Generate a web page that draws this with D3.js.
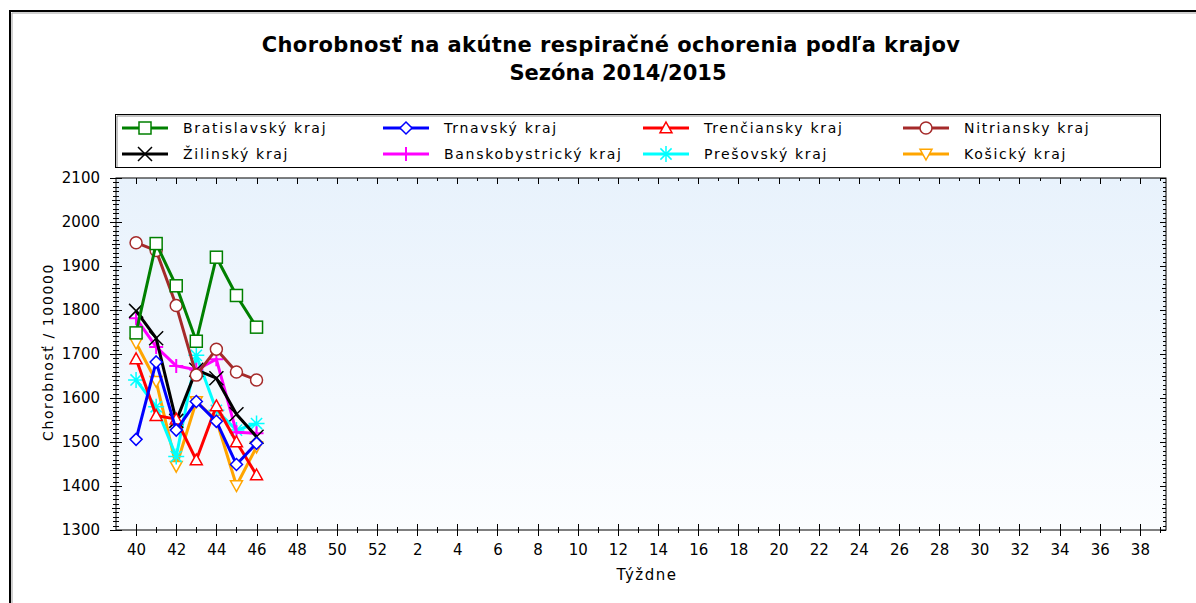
<!DOCTYPE html>
<meta charset="utf-8">
<title>Chorobnosť na ARO podľa krajov</title>
<style>
body { margin: 0; background: #fff; }
svg { display: block; font-family: "DejaVu Sans", Arial, sans-serif; }
.axis .tick text { font-size: 15px; fill: #000; font-family: "DejaVu Sans", Arial, sans-serif; }
</style>
<body>
<script src="https://d3js.org/d3.v7.min.js"></script>
<script>

// weeks of the season (x categories)
var weeks = [40, 41, 42, 43, 44, 45, 46, 47, 48, 49, 50, 51, 52,
             1, 2, 3, 4, 5, 6, 7, 8, 9, 10, 11, 12, 13, 14, 15, 16, 17, 18, 19, 20,
             21, 22, 23, 24, 25, 26, 27, 28, 29, 30, 31, 32, 33, 34, 35, 36, 37, 38, 39];

var yTicks = [1300, 1400, 1500, 1600, 1700, 1800, 1900, 2000, 2100];

// values for weeks 40..46
var bratislavsky     = [1748, 1951, 1855, 1729, 1920, 1833, 1761];
var trnavsky         = [1506, 1682, 1527, 1592, 1547, 1449, 1497];
var trenciansky      = [1689, 1560, 1552, 1459, 1582, 1500, 1425];
var nitriansky       = [1953, 1935, 1810, 1652, 1711, 1659, 1641];
var zilinsky         = [1798, 1736, 1548, 1664, 1645, 1563, 1512];
var banskobystricky  = [1781, 1716, 1673, 1664, 1688, 1522, 1520];
var presovsky        = [1641, 1580, 1467, 1697, 1572, 1527, 1542];
var kosicky          = [1725, 1638, 1445, 1592, 1550, 1401, 1489];

var series = [
  {name: "Bratislavský kraj", values: bratislavsky, color: "#008000", marker: "square"},
  {name: "Trnavský kraj", values: trnavsky, color: "#0000ff", marker: "diamond"},
  {name: "Trenčiansky kraj", values: trenciansky, color: "#ff0000", marker: "triangle"},
  {name: "Nitriansky kraj", values: nitriansky, color: "#a52a2a", marker: "circle"},
  {name: "Žilinský kraj", values: zilinsky, color: "#000000", marker: "x"},
  {name: "Banskobystrický kraj", values: banskobystricky, color: "#ff00ff", marker: "plus"},
  {name: "Prešovský kraj", values: presovsky, color: "#00ffff", marker: "star"},
  {name: "Košický kraj", values: kosicky, color: "#ffa500", marker: "triangleDown"}
];

var W = 1196, H = 603;
var plot = {left: 116, right: 1166, top: 178, bottom: 530};

var svg = d3.select("body").append("svg")
    .attr("width", W).attr("height", H);

// outer panel frame
svg.append("path").attr("d", "M10,603V11H1196").attr("fill", "none")
    .attr("stroke", "#000").attr("stroke-width", 2);
svg.append("path").attr("d", "M12,603V13H1196").attr("fill", "none")
    .attr("stroke", "#a0a0a0").attr("stroke-width", 1);

// title
svg.append("text").attr("x", 611).attr("y", 52).attr("text-anchor", "middle")
    .attr("font-size", 21).attr("font-weight", "bold").attr("letter-spacing", 0.4)
    .text("Chorobnosť na akútne respiračné ochorenia podľa krajov");
svg.append("text").attr("x", 618).attr("y", 80).attr("text-anchor", "middle")
    .attr("font-size", 21).attr("font-weight", "bold")
    .text("Sezóna 2014/2015");

// scales
var x = d3.scaleLinear().domain([-1, 51.3]).range([plot.left, plot.right]);
var y = d3.scaleLinear().domain([1300, 2100]).range([plot.bottom, plot.top]);

// plot background
var defs = svg.append("defs");
var grad = defs.append("linearGradient").attr("id", "bg")
    .attr("x1", 0).attr("y1", 0).attr("x2", 0).attr("y2", 1);
grad.append("stop").attr("offset", "0%").attr("stop-color", "#e8f2fc");
grad.append("stop").attr("offset", "100%").attr("stop-color", "#fbfdff");

svg.append("rect")
    .attr("x", plot.left).attr("y", plot.top)
    .attr("width", plot.right - plot.left).attr("height", plot.bottom - plot.top)
    .attr("fill", "url(#bg)").attr("stroke", "#000").attr("stroke-width", 1);

// ticks: y axis (left and right), crossing the frame
var yMinor = d3.range(1300, 2101, 10);
var tickG = svg.append("g").attr("stroke", "#000").attr("stroke-width", 1)
    .attr("shape-rendering", "crispEdges");
yMinor.forEach(function(v) {
  var major = v % 100 === 0, half = v % 50 === 0;
  var l = major ? 6 : (half ? 4 : 3);
  tickG.append("line").attr("x1", plot.left - l).attr("x2", plot.left + l)
      .attr("y1", Math.round(y(v)) + 0.5).attr("y2", Math.round(y(v)) + 0.5);
  tickG.append("line").attr("x1", plot.right - l).attr("x2", plot.right)
      .attr("y1", Math.round(y(v)) + 0.5).attr("y2", Math.round(y(v)) + 0.5);
});

// x ticks, each week, labels at even week numbers
weeks.forEach(function(w, i) {
  var major = w % 2 === 0;
  var l = major ? 6 : 3;
  var xx = Math.round(x(i)) + 0.5;
  tickG.append("line").attr("x1", xx).attr("x2", xx)
      .attr("y1", plot.bottom - l).attr("y2", plot.bottom + l);
  tickG.append("line").attr("x1", xx).attr("x2", xx)
      .attr("y1", plot.top).attr("y2", plot.top + l);
});

var yAxis = svg.append("g").attr("class", "axis")
    .attr("transform", "translate(" + plot.left + ",0)")
    .call(d3.axisLeft(y).tickValues(yTicks).tickSize(0).tickPadding(16)
      .tickFormat(d3.format("d")));
yAxis.select(".domain").remove();

var xLabelIdx = weeks.map(function(w, i) { return i; })
    .filter(function(i) { return weeks[i] % 2 === 0; });
var xAxis = svg.append("g").attr("class", "axis")
    .attr("transform", "translate(0," + plot.bottom + ")")
    .call(d3.axisBottom(x).tickValues(xLabelIdx).tickSize(0).tickPadding(14)
      .tickFormat(function(i) { return weeks[i]; }));
xAxis.select(".domain").remove();

// axis titles
svg.append("text").attr("x", 647).attr("y", 580).attr("text-anchor", "middle")
    .attr("font-size", 15).attr("letter-spacing", 1.5).text("Týždne");
svg.append("text").attr("transform", "translate(53,352) rotate(-90)")
    .attr("text-anchor", "middle").attr("font-size", 14).attr("letter-spacing", 1.6)
    .text("Chorobnosť / 100000");

// markers
function drawMarker(g, type, color, cx, cy, s) {
  var m;
  switch (type) {
    case "square":
      m = g.append("rect").attr("x", cx - s).attr("y", cy - s)
          .attr("width", 2 * s).attr("height", 2 * s);
      break;
    case "circle":
      m = g.append("circle").attr("cx", cx).attr("cy", cy).attr("r", s);
      break;
    case "diamond":
      m = g.append("path").attr("d", "M" + cx + "," + (cy - s) + "L" + (cx + s) + "," + cy +
          "L" + cx + "," + (cy + s) + "L" + (cx - s) + "," + cy + "Z");
      break;
    case "triangle":
      m = g.append("path").attr("d", "M" + cx + "," + (cy - s) + "L" + (cx + s) + "," + (cy + s * 0.8) +
          "L" + (cx - s) + "," + (cy + s * 0.8) + "Z");
      break;
    case "triangleDown":
      m = g.append("path").attr("d", "M" + cx + "," + (cy + s) + "L" + (cx + s) + "," + (cy - s * 0.8) +
          "L" + (cx - s) + "," + (cy - s * 0.8) + "Z");
      break;
    case "x":
      g.append("path").attr("d", "M" + (cx - s) + "," + (cy - s) + "L" + (cx + s) + "," + (cy + s) +
          "M" + (cx + s) + "," + (cy - s) + "L" + (cx - s) + "," + (cy + s))
          .attr("stroke", color).attr("stroke-width", 1.5).attr("fill", "none");
      return;
    case "plus":
      g.append("path").attr("d", "M" + (cx - s) + "," + cy + "L" + (cx + s) + "," + cy +
          "M" + cx + "," + (cy - s) + "L" + cx + "," + (cy + s))
          .attr("stroke", color).attr("stroke-width", 2).attr("fill", "none");
      return;
    case "star":
      var d = "M" + (cx - s) + "," + cy + "L" + (cx + s) + "," + cy +
          "M" + cx + "," + (cy - s) + "L" + cx + "," + (cy + s) +
          "M" + (cx - s * 0.7) + "," + (cy - s * 0.7) + "L" + (cx + s * 0.7) + "," + (cy + s * 0.7) +
          "M" + (cx + s * 0.7) + "," + (cy - s * 0.7) + "L" + (cx - s * 0.7) + "," + (cy + s * 0.7);
      g.append("path").attr("d", d).attr("stroke", color).attr("stroke-width", 1.5).attr("fill", "none");
      return;
  }
  m.attr("fill", "#fff").attr("stroke", color).attr("stroke-width", 1.5);
}

var markerSize = {square: 6, circle: 6, diamond: 6, triangle: 6, triangleDown: 6, x: 7, plus: 7, star: 8};

var line = d3.line()
    .x(function(d, i) { return x(i); })
    .y(function(d) { return y(d); });

// draw in reverse order so that Bratislavský ends on top
series.slice().reverse().forEach(function(s) {
  var g = svg.append("g");
  g.append("path").datum(s.values).attr("d", line)
      .attr("fill", "none").attr("stroke", s.color).attr("stroke-width", 3)
      .attr("stroke-linejoin", "round");
  s.values.forEach(function(v, i) {
    drawMarker(g, s.marker, s.color, x(i), y(v), markerSize[s.marker]);
  });
});

// legend
var lg = svg.append("g");
lg.append("rect").attr("x", 115.5).attr("y", 114.5).attr("width", 1045).attr("height", 53)
    .attr("fill", "#fff").attr("stroke", "#000").attr("stroke-width", 1);
lg.append("path").attr("d", "M117,167V116H1160").attr("fill", "none")
    .attr("stroke", "#888").attr("stroke-width", 1);

var colX = [122, 383, 643, 903];
var rowY = [128, 154];
series.forEach(function(s, k) {
  var c = k % 4, r = Math.floor(k / 4);
  var x0 = colX[c], yy = rowY[r];
  lg.append("line").attr("x1", x0).attr("x2", x0 + 46).attr("y1", yy).attr("y2", yy)
      .attr("stroke", s.color).attr("stroke-width", 3);
  drawMarker(lg, s.marker, s.color, x0 + 23, yy, markerSize[s.marker]);
  lg.append("text").attr("x", x0 + 61).attr("y", yy + 5)
      .attr("font-size", 14).attr("letter-spacing", 1.7).text(s.name);
});

</script>
</body>
